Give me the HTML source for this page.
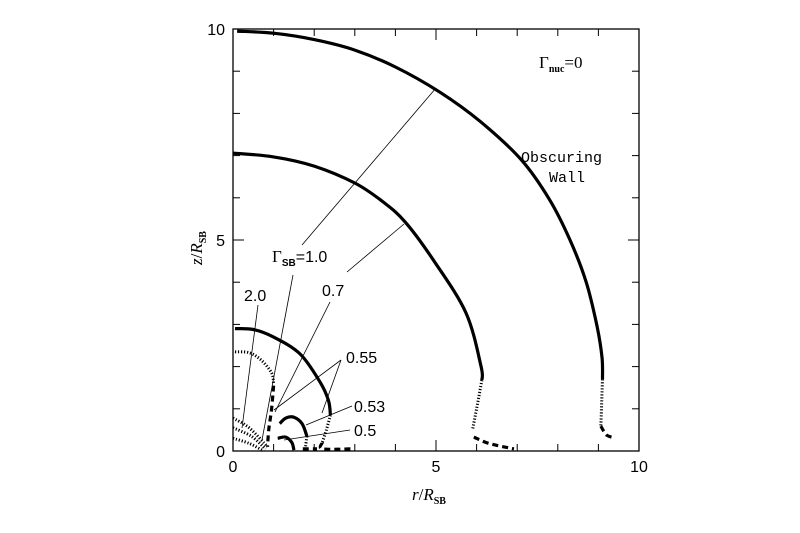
<!DOCTYPE html>
<html><head><meta charset="utf-8"><style>
body{margin:0;background:#fff;width:800px;height:533px;overflow:hidden}
svg{display:block;font-family:"Liberation Sans",sans-serif}
</style></head><body>
<svg id="chart" width="800" height="533" viewBox="0 0 800 533">
<g id="axes"></g>
<g id="curves"></g>
<g id="leaders" stroke="#000" stroke-width="0.8"></g>
<g font-size="16" fill="#000">
<text x="539" y="68" font-family="Liberation Serif,serif" font-size="17">Γ<tspan font-size="10" dy="4" font-weight="bold">nuc</tspan><tspan dy="-4">=0</tspan></text>
<text x="521" y="162" font-family="Liberation Mono,monospace" font-size="15">Obscuring</text>
<text x="549" y="182" font-family="Liberation Mono,monospace" font-size="15">Wall</text>
<text x="272" y="262"><tspan font-family="Liberation Serif,serif" font-size="17">Γ</tspan><tspan font-size="10" dy="4" font-weight="bold">SB</tspan><tspan dy="-4">=1.0</tspan></text>
<text x="244" y="301">2.0</text>
<text x="322" y="296">0.7</text>
<text x="346" y="363">0.55</text>
<text x="354" y="412">0.53</text>
<text x="354" y="436">0.5</text>
</g>
<g font-size="17" font-family="Liberation Serif,serif" font-style="italic">
<text x="412" y="500">r<tspan font-style="normal">/</tspan>R<tspan font-size="10" dy="4" font-style="normal" font-weight="bold">SB</tspan></text>
<text transform="translate(202,265) rotate(-90)">z<tspan font-style="normal">/</tspan>R<tspan font-size="10" dy="4" font-style="normal" font-weight="bold">SB</tspan></text>
</g>
</svg>
<script>
// data arrays (r, z in units of R_SB)
const xTicks = [0,5,10];
const yTicks = [0,5,10];
const xTickLabels = ["0","5","10"];
const yTickLabels = ["0","5","10"];
// outer curve (obscuring wall)
const wallSolidR = [0.1,1,2,3,4,5.1,6.1,7.1,7.8,8.3,8.7,8.97,9.09,9.1];
const wallSolidZ = [9.95,9.9,9.75,9.5,9.1,8.5,7.8,6.9,5.95,5.0,4.0,2.94,2.2,1.7];
const wallDotR = [9.1,9.08,9.06];
const wallDotZ = [1.7,1.1,0.6];
const wallDashR = [9.06,9.2,9.41];
const wallDashZ = [0.59,0.38,0.31];
// Gamma 0.7
const g07SolidR = [0,1,2,3,3.7,4.24,4.93,5.74,6.11,6.13];
const g07SolidZ = [7.06,6.97,6.75,6.35,5.9,5.43,4.53,3.27,2.0,1.68];
const g07DotR = [6.13,6.0,5.9];
const g07DotZ = [1.68,1.0,0.5];
const g07DashR = [5.93,6.3,6.92];
const g07DashZ = [0.33,0.18,0.05];
// Gamma 0.55
const g055SolidR = [0.05,0.5,1.0,1.65,2.14,2.35,2.4];
const g055SolidZ = [2.9,2.88,2.7,2.3,1.64,1.2,0.85];
const g055DotR = [2.4,2.3,2.2];
const g055DotZ = [0.85,0.5,0.2];
const g055DashR = [2.2,2.2,2.9];
const g055DashZ = [0.2,0.05,0.05];
// Gamma 1.0 (dotted / dashed)
const g10DotR = [0.05,0.4,0.7,0.95,1.0];
const g10DotZ = [2.35,2.33,2.15,1.85,1.6];
const g10DashR = [1.0,0.95,0.88,0.85];
const g10DashZ = [1.55,1.0,0.5,0.1];
// Gamma 0.53
const g053SolidR = [1.15,1.3,1.5,1.7,1.82];
const g053SolidZ = [0.65,0.78,0.8,0.65,0.35];
const g053DotR = [1.82,1.78];
const g053DotZ = [0.35,0.05];
const g053DashR = [1.72,2.07];
const g053DashZ = [0.05,0.05];
// Gamma 0.5
const g05SolidR = [1.1,1.3,1.45,1.5];
const g05SolidZ = [0.3,0.33,0.2,0.02];
// Gamma 2.0 and others near origin (dotted)
const g20aR = [0,0.4,0.85];
const g20aZ = [0.78,0.55,0.1];
const g20bR = [0,0.45,0.8];
const g20bZ = [0.55,0.35,0.05];
const g20cR = [0,0.4,0.72];
const g20cZ = [0.3,0.18,0.02];

const X0=233,X1=639,Y0=451,Y1=29;
const sx=v=>X0+(X1-X0)*v/10;
const sy=v=>Y0-(Y0-Y1)*v/10;
const NS='http://www.w3.org/2000/svg';
function mk(tag,attrs,parent){const e=document.createElementNS(NS,tag);for(const k in attrs)e.setAttribute(k,attrs[k]);parent.appendChild(e);return e;}

const axes=document.getElementById('axes');
const frame=mk('rect',{x:X0,y:Y1,width:X1-X0,height:Y0-Y1,fill:'none',stroke:'#000','stroke-width':1.3},axes);


for(let i=0;i<=10;i++){
  const L=(i%5===0)?11:7;
  const x=sx(i),y=sy(i);
  [[x,Y0,x,Y0-L],[x,Y1,x,Y1+L],[X0,y,X0+L,y],[X1,y,X1-L,y]].forEach(p=>{
    const t=mk('line',{x1:p[0],y1:p[1],x2:p[2],y2:p[3],stroke:'#000','stroke-width':1},axes);
    
    
  });
}
xTicks.forEach((v,i)=>{
  const t=mk('text',{x:sx(v),y:472,'text-anchor':'middle','font-size':16},axes);
  t.textContent=xTickLabels[i];
  
  
});
yTicks.forEach((v,i)=>{
  const t=mk('text',{x:X0-8,y:sy(v)+6,'text-anchor':'end','font-size':16},axes);
  t.textContent=yTickLabels[i];
  
  
});

const curves=document.getElementById('curves');
const styles={solid:{w:3.2,d:''},dot:{w:3,d:'1.2 1.8'},dash:{w:3.2,d:'6 4'}};
function draw(rs,zs,st,name){
  const P=rs.map((r,i)=>[sx(r),sy(zs[i])]);
  let d='M'+P[0][0].toFixed(1)+','+P[0][1].toFixed(1);
  for(let i=0;i<P.length-1;i++){
    const p0=P[i-1]||P[i],p1=P[i],p2=P[i+1],p3=P[i+2]||P[i+1];
    const c1=[p1[0]+(p2[0]-p0[0])/6,p1[1]+(p2[1]-p0[1])/6];
    const c2=[p2[0]-(p3[0]-p1[0])/6,p2[1]-(p3[1]-p1[1])/6];
    d+=' C'+c1.map(v=>v.toFixed(1)).join(',')+' '+c2.map(v=>v.toFixed(1)).join(',')+' '+p2.map(v=>v.toFixed(1)).join(',');
  }
  const p=mk('path',{d:d,fill:'none',stroke:'#000','stroke-width':styles[st].w,'stroke-dasharray':styles[st].d,'stroke-linejoin':'round'},curves);
  
  
}
draw(wallSolidR,wallSolidZ,'solid','wall-solid');
draw(wallDotR,wallDotZ,'dot','wall-dotted');
draw(wallDashR,wallDashZ,'dash','wall-dashed');
draw(g07SolidR,g07SolidZ,'solid','curve-0-7-solid');
draw(g07DotR,g07DotZ,'dot','curve-0-7-dotted');
draw(g07DashR,g07DashZ,'dash','curve-0-7-dashed');
draw(g055SolidR,g055SolidZ,'solid','curve-0-55-solid');
draw(g055DotR,g055DotZ,'dot','curve-0-55-dotted');
draw(g055DashR,g055DashZ,'dash','curve-0-55-dashed');
draw(g10DotR,g10DotZ,'dot','curve-1-0-dotted');
draw(g10DashR,g10DashZ,'dash','curve-1-0-dashed');
draw(g053SolidR,g053SolidZ,'solid','curve-0-53-solid');
draw(g053DotR,g053DotZ,'dot','curve-0-53-dotted');
draw(g053DashR,g053DashZ,'dash','curve-0-53-dashed');
draw(g05SolidR,g05SolidZ,'solid','curve-0-5-solid');
draw(g20aR,g20aZ,'dot','curve-2-0-dotted-a');
draw(g20bR,g20bZ,'dot','curve-2-0-dotted-b');
draw(g20cR,g20cZ,'dot','curve-2-0-dotted-c');

// leader lines (pixel annotation positions)
const leaderLines=[[302,245,436,88],[293,275,262,440],[258,305,242,428],[347,272,404,224],[330,302,275,412],[341,360,274,410],[341,360,322,413],[352,406,306,425],[350,430,284,440]];
const lg=document.getElementById('leaders');
leaderLines.forEach(l=>{
  const e=mk('line',{x1:l[0],y1:l[1],x2:l[2],y2:l[3]},lg);
  
  
});
</script>
</body></html>
